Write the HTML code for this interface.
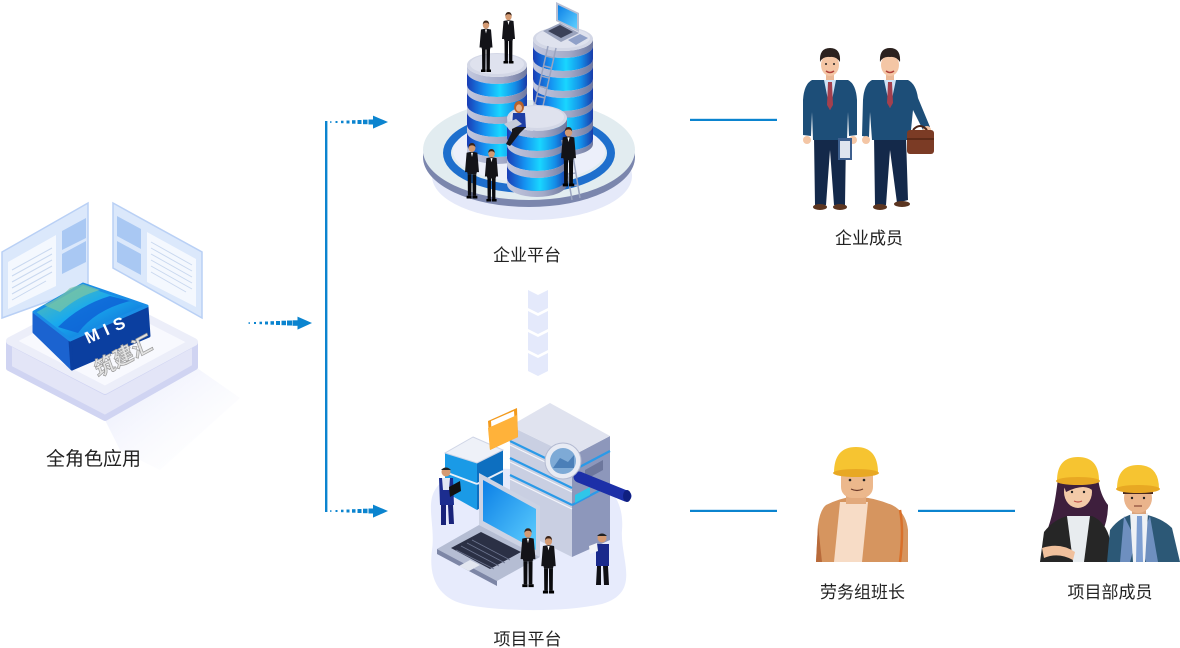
<!DOCTYPE html>
<html><head><meta charset="utf-8">
<style>
html,body{margin:0;padding:0;background:#fff;}
svg{display:block;}
text{font-family:"Liberation Sans","Noto Sans CJK SC",sans-serif;}
</style></head><body>
<svg width="1180" height="648" viewBox="0 0 1180 648" xmlns="http://www.w3.org/2000/svg">
<defs>
 <linearGradient id="bl" x1="0" x2="1" y1="0" y2="0">
  <stop offset="0" stop-color="#1a3db5"/>
  <stop offset="0.3" stop-color="#1593f2"/>
  <stop offset="0.55" stop-color="#19d6ff"/>
  <stop offset="0.8" stop-color="#148ee8"/>
  <stop offset="1" stop-color="#1a3aa8"/>
 </linearGradient>
 <linearGradient id="gr" x1="0" x2="1" y1="0" y2="0">
  <stop offset="0" stop-color="#c3c8de"/>
  <stop offset="0.6" stop-color="#a3aac8"/>
  <stop offset="1" stop-color="#6e789f"/>
 </linearGradient>
 <linearGradient id="scr" x1="0" x2="1" y1="0" y2="1">
  <stop offset="0" stop-color="#0b7fe6"/>
  <stop offset="1" stop-color="#5fd0ff"/>
 </linearGradient>
 <linearGradient id="mistop" x1="0" x2="1" y1="0" y2="1">
  <stop offset="0" stop-color="#6cc09c"/>
  <stop offset="0.45" stop-color="#19aaee"/>
  <stop offset="1" stop-color="#0d58d0"/>
 </linearGradient>
 <linearGradient id="shad" x1="0" x2="1" y1="0" y2="1">
  <stop offset="0" stop-color="#e6e9fb"/>
  <stop offset="1" stop-color="#ffffff" stop-opacity="0"/>
 </linearGradient>
 <symbol id="biz" viewBox="0 0 14 52">
  <ellipse cx="7" cy="4.6" rx="3.2" ry="3.8" fill="#d39a73"/>
  <path d="M3.8,4 Q4,0 7,0 Q10,0 10.2,4 Q9,2 7,2.2 Q5,2 3.8,4Z" fill="#3a2418"/>
  <path d="M2,9 Q7,7.5 12,9 L13.5,27 L11.5,27 L11,29 L3,29 L2.5,27 L0.5,27 Z" fill="#131318"/>
  <path d="M6,9 L8,9 L7,13Z" fill="#fff"/>
  <path d="M3,29 L6.6,29 L6.4,49 L3.2,49Z M7.4,29 L11,29 L10.8,49 L7.6,49Z" fill="#0b0b0e"/>
  <path d="M2,49 L6.6,49 L6.6,51.5 L2,51.5Z M7.4,49 L12,49 L12,51.5 L7.4,51.5Z" fill="#000"/>
 </symbol>
</defs>

<!-- ================= LEFT: MIS ================= -->
<polygon points="105,420 197,368 240,398 160,470 120,450" fill="url(#shad)"/>
<!-- panels -->
<polygon points="2,252 88,203 88,287 2,318" fill="#dbe8fb" stroke="#b9d0f5" stroke-width="1.5"/>
<polygon points="8,262 56,235 56,286 8,309" fill="#f4f8fe"/>
<g stroke="#c9d8ef" stroke-width="1">
 <line x1="12" y1="270" x2="52" y2="248"/><line x1="12" y1="276" x2="52" y2="254"/>
 <line x1="12" y1="282" x2="52" y2="260"/><line x1="12" y1="288" x2="52" y2="266"/>
 <line x1="12" y1="294" x2="52" y2="272"/><line x1="12" y1="300" x2="46" y2="281"/>
</g>
<polygon points="62,231 86,218 86,238 62,250" fill="#a9c8f3"/>
<polygon points="62,254 86,241 86,262 62,274" fill="#a9c8f3"/>
<polygon points="113,203 202,252 202,318 113,268" fill="#dbe8fb" stroke="#b9d0f5" stroke-width="1.5"/>
<polygon points="117,216 141,229 141,249 117,236" fill="#a9c8f3"/>
<polygon points="117,241 141,254 141,275 117,262" fill="#a9c8f3"/>
<polygon points="147,232 196,259 196,307 147,282" fill="#f4f8fe"/>
<g stroke="#c9d8ef" stroke-width="1">
 <line x1="151" y1="242" x2="192" y2="265"/><line x1="151" y1="248" x2="192" y2="271"/>
 <line x1="151" y1="254" x2="192" y2="277"/><line x1="151" y1="260" x2="192" y2="283"/>
 <line x1="151" y1="266" x2="192" y2="289"/><line x1="151" y1="272" x2="186" y2="292"/>
</g>
<!-- base -->
<polygon points="9,342 105,392 195,343 195,367 105,418 9,368" fill="#e3e5f7" stroke="#d0d4f2" stroke-width="6" stroke-linejoin="round"/>
<polygon points="10,341 100,294 194,342 105,390" fill="#f8f9fe" stroke="#eceef9" stroke-width="8" stroke-linejoin="round"/>
<!-- icon -->
<polygon points="34,313 70,340 72,369 34,332" fill="#1b63d0" stroke="#1b63d0" stroke-width="3" stroke-linejoin="round"/>
<polygon points="70,340 147,307 149,336 72,369" fill="#0b3fa0" stroke="#0b3fa0" stroke-width="3" stroke-linejoin="round"/>
<polygon points="34,312 83,284 147,306 70,340" fill="url(#mistop)" stroke="#1a8ee6" stroke-width="3" stroke-linejoin="round"/>
<path d="M58,327 Q80,305 110,296 L130,301 Q95,310 78,333Z" fill="#0e5fd4" opacity="0.8"/>
<path d="M44,305 Q60,298 70,288 L83,284 L100,290 Q78,296 60,312Z" fill="#7cc6a4" opacity="0.7"/>
<text x="0" y="0" transform="translate(88,344) rotate(-24)" font-size="17" font-weight="bold" fill="#fff" letter-spacing="6">MIS</text>
<text x="0" y="0" transform="translate(98,378) rotate(-28) skewX(-8)" font-size="21" font-weight="bold" fill="#e4e4e4" stroke="#9a9a9a" stroke-width="0.7">筑建汇</text>
<text x="93.5" y="465" font-size="19" fill="#222" text-anchor="middle">全角色应用</text>

<!-- ================= ARROWS / LINES ================= -->
<g fill="#0b84cf">
 <!-- middle arrow y=323 -->
 <rect x="248.5" y="322.3" width="1.5" height="1.5"/>
 <rect x="254" y="322" width="2" height="2"/>
 <rect x="259.5" y="321.7" width="2.5" height="2.5"/>
 <rect x="265" y="321.5" width="3" height="3"/>
 <rect x="270.5" y="321.2" width="3.5" height="3.5"/>
 <rect x="276" y="321" width="4" height="4"/>
 <rect x="281.5" y="320.7" width="4.5" height="4.5"/>
 <rect x="287" y="320.5" width="5" height="5"/>
 <rect x="292.5" y="320.3" width="5.5" height="5.5"/>
 <polygon points="297.5,316.6 312,323 297.5,329.6"/>
 <!-- top arrow y=122 -->
 <rect x="330" y="121.3" width="1.5" height="1.5"/>
 <rect x="335.5" y="121" width="2" height="2"/>
 <rect x="341" y="120.7" width="2.5" height="2.5"/>
 <rect x="346.5" y="120.5" width="3" height="3"/>
 <rect x="352" y="120.2" width="3.5" height="3.5"/>
 <rect x="357.5" y="120" width="4" height="4"/>
 <rect x="363" y="119.7" width="4.5" height="4.5"/>
 <rect x="368.5" y="119.5" width="5" height="5"/>
 <polygon points="373,115.6 388,122 373,128.6"/>
 <!-- bottom arrow y=511 -->
 <rect x="330" y="510.3" width="1.5" height="1.5"/>
 <rect x="335.5" y="510" width="2" height="2"/>
 <rect x="341" y="509.7" width="2.5" height="2.5"/>
 <rect x="346.5" y="509.5" width="3" height="3"/>
 <rect x="352" y="509.2" width="3.5" height="3.5"/>
 <rect x="357.5" y="509" width="4" height="4"/>
 <rect x="363" y="508.7" width="4.5" height="4.5"/>
 <rect x="368.5" y="508.5" width="5" height="5"/>
 <polygon points="373,504.6 388,511 373,517.6"/>
 <rect x="325" y="121" width="2.4" height="391"/>
 <rect x="690" y="118.8" width="87" height="2.2"/>
 <rect x="690" y="509.8" width="87" height="2.2"/>
 <rect x="918" y="509.8" width="97" height="2.2"/>
</g>

<!-- chevrons -->
<g fill="#e4e9fb">
 <polygon points="528,290 538,295 548,290 548,308 538,313 528,308"/>
 <polygon points="528,311 538,316 548,311 548,329 538,334 528,329"/>
 <polygon points="528,332 538,337 548,332 548,350 538,355 528,350"/>
 <polygon points="528,353 538,358 548,353 548,371 538,376 528,371"/>
</g>

<!-- ================= ENTERPRISE PLATFORM ================= -->
<ellipse cx="532" cy="176" rx="100" ry="44" fill="#e5e9f9"/>
<ellipse cx="529" cy="157" rx="106" ry="50" fill="#7b86ad"/>
<ellipse cx="529" cy="150" rx="106" ry="50" fill="#e2ecf0"/>
<ellipse cx="529" cy="153" rx="82" ry="36" fill="none" stroke="#1e6fcd" stroke-width="8"/>
<ellipse cx="529" cy="151" rx="76" ry="31" fill="#eceffa"/>
<!-- left cylinder -->
<g>
 <path d="M467,65 A30,12 0 0 0 527,65 L527,72 A30,12 0 0 1 467,72Z" fill="url(#gr)"/>
 <path d="M467,72 A30,12 0 0 0 527,72 L527,85 A30,12 0 0 1 467,85Z" fill="url(#bl)"/>
 <path d="M467,85 A30,12 0 0 0 527,85 L527,92 A30,12 0 0 1 467,92Z" fill="url(#gr)"/>
 <path d="M467,92 A30,12 0 0 0 527,92 L527,105 A30,12 0 0 1 467,105Z" fill="url(#bl)"/>
 <path d="M467,105 A30,12 0 0 0 527,105 L527,112 A30,12 0 0 1 467,112Z" fill="url(#gr)"/>
 <path d="M467,112 A30,12 0 0 0 527,112 L527,125 A30,12 0 0 1 467,125Z" fill="url(#bl)"/>
 <path d="M467,125 A30,12 0 0 0 527,125 L527,132 A30,12 0 0 1 467,132Z" fill="url(#gr)"/>
 <path d="M467,132 A30,12 0 0 0 527,132 L527,145 A30,12 0 0 1 467,145Z" fill="url(#bl)"/>
 <path d="M467,145 A30,12 0 0 0 527,145 L527,152 A30,12 0 0 1 467,152Z" fill="url(#gr)"/>
 <ellipse cx="497" cy="65" rx="30" ry="12" fill="#d3d7e6"/>
 <ellipse cx="497" cy="64" rx="27" ry="10" fill="#dfe2ee"/>
</g>
<!-- right cylinder -->
<g>
 <path d="M533,39 A30,12 0 0 0 593,39 L593,46 A30,12 0 0 1 533,46Z" fill="url(#gr)"/>
 <path d="M533,46 A30,12 0 0 0 593,46 L593,59 A30,12 0 0 1 533,59Z" fill="url(#bl)"/>
 <path d="M533,59 A30,12 0 0 0 593,59 L593,66 A30,12 0 0 1 533,66Z" fill="url(#gr)"/>
 <path d="M533,66 A30,12 0 0 0 593,66 L593,79 A30,12 0 0 1 533,79Z" fill="url(#bl)"/>
 <path d="M533,79 A30,12 0 0 0 593,79 L593,86 A30,12 0 0 1 533,86Z" fill="url(#gr)"/>
 <path d="M533,86 A30,12 0 0 0 593,86 L593,99 A30,12 0 0 1 533,99Z" fill="url(#bl)"/>
 <path d="M533,99 A30,12 0 0 0 593,99 L593,106 A30,12 0 0 1 533,106Z" fill="url(#gr)"/>
 <path d="M533,106 A30,12 0 0 0 593,106 L593,119 A30,12 0 0 1 533,119Z" fill="url(#bl)"/>
 <path d="M533,119 A30,12 0 0 0 593,119 L593,126 A30,12 0 0 1 533,126Z" fill="url(#gr)"/>
 <path d="M533,126 A30,12 0 0 0 593,126 L593,139 A30,12 0 0 1 533,139Z" fill="url(#bl)"/>
 <path d="M533,139 A30,12 0 0 0 593,139 L593,144 A30,12 0 0 1 533,144Z" fill="url(#gr)"/>
 <ellipse cx="563" cy="39" rx="30" ry="12" fill="#d3d7e6"/>
 <ellipse cx="563" cy="38" rx="27" ry="10" fill="#dfe2ee"/>
</g>
<!-- laptop on right cylinder -->
<polygon points="543,31 560,23 579,33 561,42" fill="#9aa3bd"/>
<polygon points="548,31 560,25 573,32 561,38" fill="#3b4158"/>
<polygon points="556,2 579,13 579,32 556,21" fill="#b8bfd3"/>
<polygon points="558,5 577,14 577,29 558,20" fill="url(#scr)"/>
<polygon points="568,40 580,34 588,38 576,45" fill="#8fa0c8"/>
<!-- ladder 1 -->
<g stroke="#9aa4c0" stroke-width="1.5">
 <line x1="535" y1="104" x2="548" y2="46"/><line x1="543" y1="106" x2="556" y2="48"/>
 <line x1="537" y1="96" x2="545" y2="98"/><line x1="539" y1="86" x2="547" y2="88"/>
 <line x1="541" y1="76" x2="549" y2="78"/><line x1="544" y1="66" x2="552" y2="68"/>
 <line x1="546" y1="56" x2="554" y2="58"/>
</g>
<!-- front cylinder -->
<g>
 <path d="M507,118 A30,13 0 0 0 567,118 L567,125 A30,13 0 0 1 507,125Z" fill="url(#gr)"/>
 <path d="M507,125 A30,13 0 0 0 567,125 L567,138 A30,13 0 0 1 507,138Z" fill="url(#bl)"/>
 <path d="M507,138 A30,13 0 0 0 567,138 L567,145 A30,13 0 0 1 507,145Z" fill="url(#gr)"/>
 <path d="M507,145 A30,13 0 0 0 567,145 L567,158 A30,13 0 0 1 507,158Z" fill="url(#bl)"/>
 <path d="M507,158 A30,13 0 0 0 567,158 L567,165 A30,13 0 0 1 507,165Z" fill="url(#gr)"/>
 <path d="M507,165 A30,13 0 0 0 567,165 L567,178 A30,13 0 0 1 507,178Z" fill="url(#bl)"/>
 <path d="M507,178 A30,13 0 0 0 567,178 L567,184 A30,13 0 0 1 507,184Z" fill="url(#gr)"/>
 <ellipse cx="537" cy="118" rx="30" ry="13" fill="#d3d7e6"/>
 <ellipse cx="537" cy="117" rx="27" ry="11" fill="#dfe2ee"/>
</g>
<!-- ladder 2 -->
<g stroke="#9aa4c0" stroke-width="1.5">
 <line x1="562" y1="140" x2="572" y2="200"/><line x1="570" y1="138" x2="580" y2="198"/>
 <line x1="564" y1="150" x2="572" y2="149"/><line x1="566" y1="162" x2="574" y2="161"/>
 <line x1="568" y1="174" x2="576" y2="173"/><line x1="570" y1="186" x2="578" y2="185"/>
</g>
<!-- people enterprise -->
<use href="#biz" x="479" y="20" width="14" height="53"/>
<use href="#biz" x="501" y="12" width="15" height="52"/>
<use href="#biz" x="464" y="143" width="16" height="56"/>
<use href="#biz" x="483" y="149" width="17" height="53"/>
<use href="#biz" x="560" y="127" width="17" height="60"/>
<!-- sitting woman -->
<ellipse cx="519" cy="107" rx="5" ry="6" fill="#b8622a"/>
<ellipse cx="519" cy="108" rx="3" ry="3.6" fill="#e6b08a"/>
<path d="M513,113 L525,113 L526,128 L512,128Z" fill="#1e3ea5"/>
<path d="M512,127 L526,127 L520,133 L510,146 L506,144 L512,132Z" fill="#16161c"/>
<polygon points="504,124 516,119 522,124 510,130" fill="#c4cad9"/>
<!-- ================= PROJECT PLATFORM ================= -->
<path d="M442,482 C470,462 520,470 560,472 C600,474 625,492 622,530 C620,560 642,592 602,604 C560,613 500,611 468,605 C440,600 428,580 432,550 C436,522 422,498 442,482Z" fill="#e7ebfc"/>
<!-- big server -->
<polygon points="510,426 572,456 572,557 510,526" fill="#c9cfe2"/>
<polygon points="572,456 610,436 610,540 572,557" fill="#8d97bb"/>
<polygon points="550,403 610,436 572,456 510,426" fill="#e0e3ef"/>
<g stroke="#2a9ae8" stroke-width="2.2">
 <line x1="510" y1="441" x2="572" y2="471"/>
 <line x1="510" y1="458" x2="572" y2="488"/>
 <line x1="510" y1="475" x2="572" y2="505"/>
 <line x1="572" y1="471" x2="610" y2="451"/>
 <line x1="572" y1="505" x2="610" y2="485"/>
</g>
<g stroke="#f4f5fa" stroke-width="1.2">
 <line x1="510" y1="445" x2="572" y2="475"/>
 <line x1="510" y1="462" x2="572" y2="492"/>
 <line x1="510" y1="479" x2="572" y2="509"/>
</g>
<polygon points="585,470 603,460 603,470 585,480" fill="#6d779c"/>
<polygon points="575,495 590,487 590,495 575,503" fill="#2fc6e8"/>
<!-- magnifier -->
<line x1="579" y1="477" x2="626" y2="496" stroke="#1c2fa8" stroke-width="11" stroke-linecap="round"/>
<ellipse cx="627" cy="496" rx="4" ry="6" fill="#0f1f80"/>
<circle cx="563" cy="461" r="18" fill="#e8ebf4" stroke="#b3bad1" stroke-width="1"/>
<circle cx="563" cy="461" r="13" fill="#7eaad6"/>
<path d="M553,468 L560,458 L568,462 L574,455 L574,468 Z" fill="#4b7fb8"/>
<!-- small server -->
<polygon points="445,453 477,463 477,510 445,492" fill="#1a9ae6"/>
<polygon points="477,463 503,450 503,495 477,510" fill="#0d6fc0"/>
<polygon points="473,437 503,450 477,463 445,453" fill="#eef1f8" stroke="#cfd5e6" stroke-width="1"/>
<line x1="445" y1="472" x2="477" y2="484" stroke="#e8eef8" stroke-width="2"/>
<line x1="477" y1="484" x2="503" y2="471" stroke="#e8eef8" stroke-width="2"/>
<!-- folder -->
<polygon points="488,421 517,408 518,437 490,450" fill="#f39a1c"/>
<polygon points="491,421 514,411 515,428 492,438" fill="#ffffff"/>
<polygon points="488,428 517,415 518,437 490,450" fill="#ffb23a"/>
<!-- laptop -->
<polygon points="479,473 540,506 540,557 479,525" fill="#cdd3e4"/>
<polygon points="483,480 536,509 536,550 483,521" fill="url(#scr)"/>
<polygon points="437,549 479,525 540,557 497,581" fill="#b5bdd3"/>
<polygon points="437,549 497,581 497,586 437,554" fill="#7d86a6"/>
<polygon points="451,548 481,532 521,552 490,569" fill="#2b3045"/>
<g stroke="#6d7590" stroke-width="0.8">
 <line x1="456" y1="550" x2="494" y2="569"/>
 <line x1="461" y1="546" x2="499" y2="566"/>
 <line x1="467" y1="543" x2="505" y2="563"/>
 <line x1="472" y1="540" x2="510" y2="560"/>
</g>
<polygon points="459,566 470,560 480,565 469,571" fill="#e3e7f0"/>
<!-- people project -->
<use href="#biz" x="520" y="528" width="16" height="60"/>
<use href="#biz" x="540" y="536" width="17" height="58"/>
<!-- worker left -->
<circle cx="446" cy="472" r="4.5" fill="#d59a72"/>
<path d="M441,470 Q446,465 451,470 Z" fill="#222"/>
<path d="M439,478 L453,478 L454,505 L440,505Z" fill="#1c2d8f"/>
<path d="M442,478 L450,478 L449,490 L443,490Z" fill="#dfe6f3"/>
<path d="M441,505 L446,505 L446,525 L441,525Z M448,505 L453,505 L454,524 L449,524Z" fill="#19237a"/>
<polygon points="449,487 460,481 461,491 450,497" fill="#111"/>
<!-- worker right -->
<circle cx="602" cy="538" r="4.5" fill="#d59a72"/>
<path d="M597,536 Q602,531 607,536 Z" fill="#222"/>
<path d="M596,544 L609,544 L609,566 L596,566Z" fill="#1a2a8c"/>
<path d="M597,566 L601,566 L601,585 L596,585Z M603,566 L608,566 L609,585 L604,585Z" fill="#101015"/>
<polygon points="589,546 597,543 598,551 590,554" fill="#f2f4f8"/>

<!-- ================= ENTERPRISE MEMBERS ================= -->
<g>
 <path d="M814,137 L846,137 L845,205 L834,205 L830,150 L826,205 L815,205Z" fill="#14294a"/>
 <ellipse cx="820" cy="207" rx="7" ry="3" fill="#5b3520"/>
 <ellipse cx="840" cy="207" rx="7" ry="3" fill="#5b3520"/>
 <rect x="826" y="72" width="8" height="10" fill="#eab896"/>
 <path d="M812,80 L848,80 Q856,84 857,100 L857,135 L849,136 L848,112 L847,140 L813,140 L812,112 L811,136 L803,135 L803,100 Q804,84 812,80Z" fill="#1d4e78"/>
 <path d="M824,80 L836,80 L830,110Z" fill="#cfe3f5"/>
 <path d="M828,82 L832,82 L833,105 L830,110 L827,105Z" fill="#a3404e"/>
 <circle cx="807" cy="140" r="4" fill="#f4c6a5"/>
 <circle cx="853" cy="140" r="4" fill="#f4c6a5"/>
 <rect x="838" y="138" width="14" height="22" fill="#3d5f8e"/>
 <rect x="840" y="141" width="10" height="17" fill="#dfe5ee"/>
 <ellipse cx="830" cy="65" rx="9" ry="11" fill="#f4c6a5"/>
 <path d="M820,62 Q819,48 830,48 Q841,48 840,62 Q836,56 830,57 Q823,56 820,62Z" fill="#2b211e"/>
 <path d="M826,71 Q830,74 834,71" stroke="#b0413a" stroke-width="1.5" fill="none"/>
 <circle cx="826" cy="64" r="1" fill="#222"/><circle cx="834" cy="64" r="1" fill="#222"/>
</g>
<g>
 <path d="M874,137 L906,137 L908,200 L897,203 L890,150 L886,205 L875,205Z" fill="#14294a"/>
 <ellipse cx="880" cy="207" rx="7" ry="3" fill="#5b3520"/>
 <ellipse cx="902" cy="204" rx="8" ry="3" fill="#5b3520"/>
 <rect x="886" y="72" width="8" height="10" fill="#eab896"/>
 <path d="M872,80 L908,80 Q916,84 918,98 L930,127 L924,132 L913,110 L910,140 L872,140 L870,112 L869,137 L862,136 L863,100 Q864,84 872,80Z" fill="#1d4e78"/>
 <path d="M884,80 L896,80 L890,108Z" fill="#cfe3f5"/>
 <path d="M888,82 L892,82 L893,103 L890,108 L887,103Z" fill="#a3404e"/>
 <circle cx="866" cy="140" r="4" fill="#f4c6a5"/>
 <circle cx="927" cy="130" r="4" fill="#f4c6a5"/>
 <path d="M913,130 Q920,122 927,130" stroke="#4a2415" stroke-width="2" fill="none"/>
 <rect x="907" y="130" width="27" height="24" rx="3" fill="#7b3b25"/>
 <rect x="907" y="138" width="27" height="2" fill="#5d2a18"/>
 <ellipse cx="890" cy="65" rx="9" ry="11" fill="#f4c6a5"/>
 <path d="M880,62 Q879,48 890,48 Q901,48 900,62 Q896,56 890,57 Q883,56 880,62Z" fill="#2b211e"/>
 <path d="M886,71 Q890,74 894,71" stroke="#b0413a" stroke-width="1.5" fill="none"/>
</g>

<!-- ================= FOREMAN ================= -->
<g>
 <path d="M826,505 Q840,498 856,496 Q875,498 892,505 Q906,512 908,530 L908,562 L816,562 L818,525 Q820,510 826,505Z" fill="#d6955f"/>
 <path d="M900,510 Q904,530 900,562" stroke="#d9702a" stroke-width="2.5" fill="none"/>
 <path d="M818,525 L822,562 L816,562Z" fill="#b86a3a"/>
 <path d="M840,502 L868,502 L862,562 L834,562Z" fill="#f7dcc6"/>
 <rect x="846" y="486" width="20" height="18" fill="#e2a97c"/>
 <rect x="841" y="463" width="32" height="35" rx="11" fill="#ecb88c"/>
 <rect x="839" y="465" width="36" height="8" fill="#3d2a2c"/>
 <path d="M834,473 Q834,447 856,447 Q878,447 878,473Z" fill="#f6c431"/>
 <ellipse cx="856" cy="473" rx="23" ry="4" fill="#e8a823"/>
 <circle cx="850" cy="480" r="1.3" fill="#222"/><circle cx="864" cy="480" r="1.3" fill="#222"/>
 <path d="M851,489 Q857,492 863,489" stroke="#6b3a2a" stroke-width="1.2" fill="none"/>
</g>

<!-- ================= PROJECT DEPT ================= -->
<g>
 <path d="M1058,478 Q1054,515 1046,533 L1102,533 Q1108,520 1108,505 Q1100,495 1098,478Z" fill="#3e1f3d"/>
 <path d="M1040,562 L1044,532 Q1054,519 1068,516 L1092,516 Q1106,522 1110,540 L1110,562Z" fill="#262626"/>
 <path d="M1067,516 L1090,516 L1084,562 L1073,562Z" fill="#e8ecef"/>
 <path d="M1042,548 Q1060,542 1075,552 L1073,560 Q1058,552 1044,558Z" fill="#f0c09c"/>
 <ellipse cx="1078" cy="492" rx="14" ry="16" fill="#f3caa8"/>
 <path d="M1064,486 Q1070,476 1092,478 L1094,492 Q1086,482 1066,492Z" fill="#3e1f3d"/>
 <path d="M1057,481 Q1057,457 1078,457 Q1099,457 1099,481Z" fill="#f6c431"/>
 <ellipse cx="1078" cy="481" rx="22" ry="4" fill="#e8a823"/>
 <circle cx="1072" cy="492" r="1.2" fill="#222"/><circle cx="1084" cy="492" r="1.2" fill="#222"/>
 <path d="M1074,501 Q1078,503 1082,501" stroke="#c0504a" stroke-width="1.2" fill="none"/>
</g>
<g>
 <path d="M1107,562 L1110,530 Q1120,516 1137,513 Q1160,516 1172,528 L1180,562Z" fill="#2c5876"/>
 <path d="M1124,516 L1136,540 L1130,562 L1120,562Z M1150,516 L1140,540 L1146,562 L1158,562Z" fill="#6e8fbf"/>
 <path d="M1130,513 L1148,513 L1145,562 L1133,562Z" fill="#eef1f5"/>
 <path d="M1137,516 L1142,516 L1143,562 L1136,562Z" fill="#7e9fd2"/>
 <rect x="1132" y="500" width="14" height="14" fill="#dba47c"/>
 <ellipse cx="1138" cy="498" rx="14" ry="15" fill="#eab48c"/>
 <rect x="1123" y="488" width="30" height="6" fill="#4a2a20"/>
 <path d="M1117,489 Q1117,465 1138,465 Q1159,465 1159,489Z" fill="#f6c431"/>
 <ellipse cx="1138" cy="489" rx="22" ry="4" fill="#e8a823"/>
 <circle cx="1132" cy="498" r="1.2" fill="#222"/><circle cx="1144" cy="498" r="1.2" fill="#222"/>
 <path d="M1134,506 L1142,506" stroke="#8a4a3a" stroke-width="1.2"/>
</g>

<!-- ================= LABELS ================= -->
<g font-size="17" fill="#222" text-anchor="middle">
 <text x="527" y="261">企业平台</text>
 <text x="869" y="244">企业成员</text>
 <text x="527.5" y="645">项目平台</text>
 <text x="862.5" y="598">劳务组班长</text>
 <text x="1110" y="598">项目部成员</text>
</g>
</svg>
</body></html>
